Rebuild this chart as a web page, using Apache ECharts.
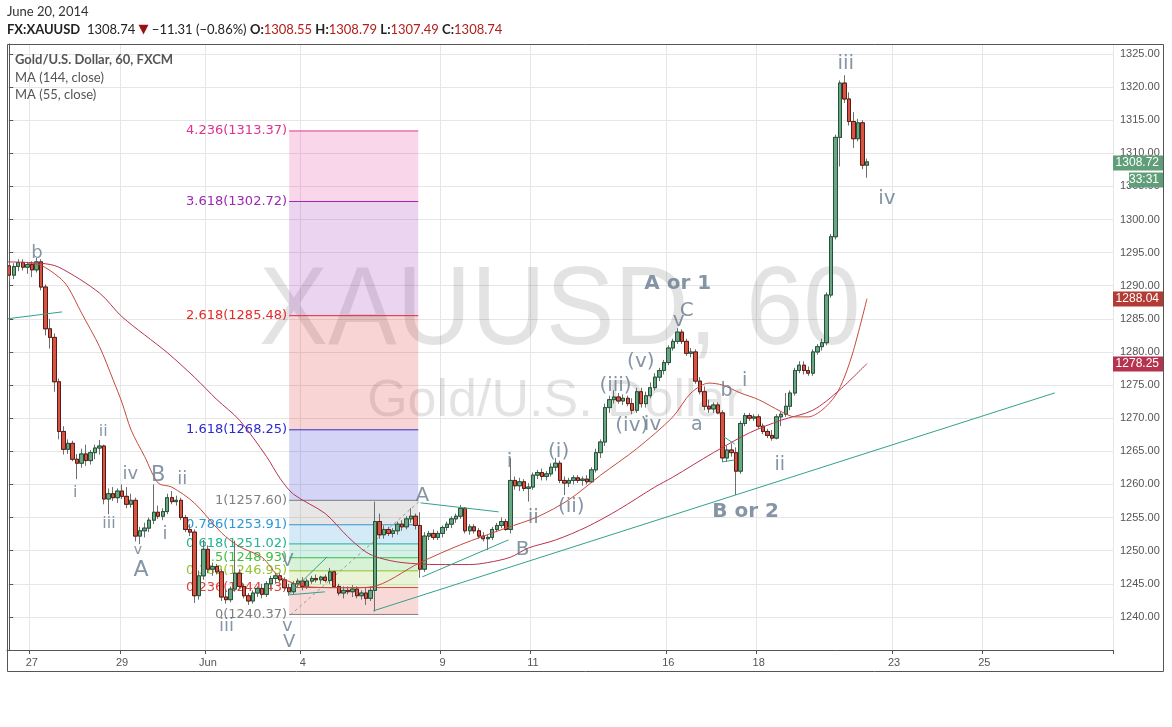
<!DOCTYPE html>
<html><head><meta charset="utf-8">
<script src="https://cdn.jsdelivr.net/npm/echarts@6/dist/echarts.min.js"></script>
<style>html,body{margin:0;padding:0;background:#fff}#c{width:1172px;height:727px}</style>
</head><body><div id="c"></div><script>
// ---------- DATA ----------
const slotCount = 245;
const dayLabels = ['27','29','Jun','4','9','11','16','18','23','25'];
const dayIndex  = [5,25,44,65,96,116,146,166,196,216];

const opens = [1293.0,1291.6,1292.9,1293.5,1292.8,1293.2,1292.4,1293.6,1289.8,1283.5,1282.2,1275.5,1268.0,1265.3,1266.2,1263.8,1263.2,1264.6,1263.6,1264.8,
1265.5,1265.8,1257.8,1258.6,1258.0,1259.0,1258.2,1257.0,1257.6,1252.2,1253.0,1253.4,1254.6,1255.8,1255.2,1255.9,1258.0,1257.4,1257.6,1255.0,
1253.2,1252.8,1243.2,1246.2,1250.2,1247.2,1247.6,1246.8,1243.0,1242.6,1244.2,1246.6,1244.6,1243.2,1242.4,1243.6,1244.3,1243.4,1245.0,1245.8,
1246.2,1245.6,1244.4,1243.8,1245.0,1245.4,1244.6,1245.4,1245.8,1245.6,1246.0,1245.5,1246.8,1244.6,1243.6,1244.0,1243.8,1244.2,1243.2,1243.6,
1242.8,1244.0,1254.4,1252.4,1253.2,1252.6,1253.0,1254.0,1253.6,1254.8,1255.2,1253.8,1247.2,1252.2,1252.6,1252.0,1252.6,1253.5,1254.0,1254.8,
1255.2,1256.4,1253.0,1253.6,1253.0,1252.2,1251.8,1252.0,1253.2,1253.8,1254.4,1253.2,1260.6,1259.8,1260.4,1259.4,1259.6,1261.4,1261.8,1261.2,
1261.6,1262.6,1263.2,1260.6,1260.2,1260.6,1261.0,1260.6,1260.8,1260.4,1262.2,1264.8,1266.4,1271.6,1272.8,1273.2,1272.6,1273.0,1272.2,1271.2,
1274.0,1272.2,1273.4,1274.6,1276.2,1277.2,1278.4,1280.6,1281.6,1283.0,1281.6,1279.8,1280.0,1275.6,1274.0,1271.8,1271.4,1272.0,1270.8,1264.0,
1265.2,1264.8,1262.0,1269.2,1270.4,1270.0,1270.2,1268.8,1268.0,1267.4,1267.0,1270.2,1270.6,1271.8,1273.8,1277.2,1278.0,1277.2,1276.8,1280.0,
1280.8,1281.4,1288.6,1297.4,1312.4,1320.6,1318.2,1314.8,1312.2,1314.6,1308.2];
const highs = [1293.6,1293.4,1294.0,1294.0,1293.6,1293.7,1294.2,1294.0,1290.2,1285.0,1282.8,1276.0,1268.8,1266.8,1266.6,1264.6,1265.4,1266.0,1265.2,1266.0,
1266.7,1266.0,1259.4,1259.6,1259.4,1260.0,1259.6,1258.6,1258.0,1253.6,1254.2,1255.0,1260.0,1256.8,1256.4,1258.6,1259.0,1258.3,1258.0,1255.4,
1254.0,1253.2,1247.0,1251.6,1250.8,1248.2,1248.0,1247.2,1244.2,1244.6,1251.5,1247.2,1245.0,1243.6,1244.0,1244.6,1245.0,1245.4,1246.2,1246.6,
1246.6,1246.0,1245.0,1245.4,1245.8,1246.0,1245.8,1246.2,1246.4,1246.2,1246.4,1247.4,1247.0,1245.0,1244.6,1244.6,1244.8,1244.6,1244.0,1244.4,
1244.6,1257.4,1255.6,1253.8,1253.6,1253.4,1254.4,1254.6,1255.2,1256.4,1255.6,1255.8,1252.8,1253.0,1253.2,1253.0,1253.8,1254.4,1255.2,1255.6,
1256.9,1256.6,1254.0,1254.0,1253.4,1252.8,1252.4,1253.6,1254.2,1255.0,1254.8,1264.0,1261.2,1261.0,1260.8,1260.2,1261.8,1262.2,1262.4,1262.0,
1263.2,1264.0,1263.6,1261.2,1261.0,1261.4,1261.4,1261.2,1261.4,1262.6,1265.4,1266.8,1272.2,1273.4,1274.2,1273.8,1273.6,1273.4,1273.0,1274.6,
1274.6,1274.0,1275.4,1276.8,1277.6,1278.8,1281.0,1282.0,1283.6,1283.4,1282.0,1280.6,1280.4,1276.2,1274.8,1272.8,1272.4,1272.4,1271.2,1265.8,
1266.2,1265.6,1269.6,1270.8,1270.8,1270.6,1270.6,1269.2,1268.4,1268.2,1270.6,1271.0,1273.8,1274.2,1277.6,1278.6,1278.6,1277.8,1280.4,1281.2,
1282.0,1289.0,1297.8,1312.8,1321.0,1321.8,1319.2,1316.2,1315.2,1315.0,1309.2];
const lows = [1290.8,1291.0,1292.2,1292.3,1291.8,1291.3,1292.0,1289.3,1282.5,1280.5,1274.0,1266.8,1264.5,1264.6,1263.5,1260.8,1262.5,1262.8,1263.0,1263.8,
1264.5,1257.0,1255.5,1257.5,1257.2,1257.8,1256.4,1256.5,1251.4,1251.0,1252.0,1252.8,1254.0,1254.8,1254.6,1255.5,1257.0,1256.8,1254.6,1252.8,
1252.2,1242.1,1242.6,1245.6,1246.6,1246.2,1246.4,1242.4,1242.0,1242.2,1243.8,1244.2,1242.8,1241.8,1242.0,1243.0,1242.8,1243.0,1244.2,1245.0,
1245.2,1244.0,1243.2,1243.4,1244.4,1244.0,1244.2,1245.0,1245.2,1245.0,1245.2,1245.0,1244.4,1243.2,1242.8,1243.4,1243.0,1242.8,1242.6,1241.8,
1242.4,1240.8,1251.8,1251.8,1252.2,1252.0,1252.4,1253.0,1253.2,1254.2,1253.2,1245.9,1246.8,1251.6,1251.6,1251.6,1252.0,1253.0,1253.4,1254.2,
1254.8,1252.6,1252.4,1252.6,1251.8,1251.4,1250.1,1251.6,1252.8,1253.4,1253.0,1252.6,1259.2,1259.0,1259.0,1257.4,1259.2,1260.8,1260.6,1260.6,
1261.2,1262.0,1260.2,1258.4,1259.6,1260.0,1260.2,1259.8,1260.0,1260.2,1261.8,1264.0,1265.8,1270.8,1272.2,1272.2,1272.0,1271.8,1270.6,1270.8,
1271.6,1271.6,1273.0,1274.2,1275.6,1276.6,1278.0,1280.2,1281.2,1281.2,1279.4,1279.2,1275.2,1273.6,1271.2,1270.8,1270.8,1270.6,1263.4,1263.4,
1264.2,1258.4,1261.6,1268.8,1269.6,1269.6,1268.4,1267.6,1267.0,1266.6,1266.8,1268.8,1270.2,1271.2,1273.4,1276.8,1276.6,1276.4,1276.4,1279.6,
1280.2,1281.0,1288.2,1297.0,1308.0,1317.6,1314.2,1310.8,1311.8,1307.6,1306.3];
const closes = [1291.6,1292.9,1293.5,1292.8,1293.2,1292.4,1293.6,1289.8,1283.5,1282.2,1275.5,1268.0,1265.3,1266.2,1263.8,1263.2,1264.6,1263.6,1264.8,1265.5,
1265.8,1257.8,1258.6,1258.0,1259.0,1258.2,1257.0,1257.6,1252.2,1253.0,1253.4,1254.6,1255.8,1255.2,1255.9,1258.0,1257.4,1257.6,1255.0,1253.2,
1252.8,1243.2,1246.2,1250.2,1247.2,1247.6,1246.8,1243.0,1242.6,1244.2,1246.6,1244.6,1243.2,1242.4,1243.6,1244.3,1243.4,1245.0,1245.8,1246.2,
1245.6,1244.4,1243.8,1245.0,1245.4,1244.6,1245.4,1245.8,1245.6,1246.0,1245.5,1246.8,1244.6,1243.6,1244.0,1243.8,1244.2,1243.2,1243.6,1242.8,
1244.0,1254.4,1252.4,1253.2,1252.6,1253.0,1254.0,1253.6,1254.8,1255.2,1253.8,1247.2,1252.2,1252.6,1252.0,1252.6,1253.5,1254.0,1254.8,1255.2,
1256.4,1253.0,1253.6,1253.0,1252.2,1251.8,1252.0,1253.2,1253.8,1254.4,1253.2,1260.6,1259.8,1260.4,1259.4,1259.6,1261.4,1261.8,1261.2,1261.6,
1262.6,1263.2,1260.6,1260.2,1260.6,1261.0,1260.6,1260.8,1260.4,1262.2,1264.8,1266.4,1271.6,1272.8,1273.2,1272.6,1273.0,1272.2,1271.2,1274.0,
1272.2,1273.4,1274.6,1276.2,1277.2,1278.4,1280.6,1281.6,1283.0,1281.6,1279.8,1280.0,1275.6,1274.0,1271.8,1271.4,1272.0,1270.8,1264.0,1265.2,
1264.8,1262.0,1269.2,1270.4,1270.0,1270.2,1268.8,1268.0,1267.4,1267.0,1270.2,1270.6,1271.8,1273.8,1277.2,1278.0,1277.2,1276.8,1280.0,1280.8,
1281.4,1288.6,1297.4,1312.4,1320.6,1318.2,1314.8,1312.2,1314.6,1308.2,1308.7];

// moving averages as [bar index, value]
const ma144 = [[-0.5,1293.6],[7,1293.4],[11,1292.8],[20,1288.9],[25,1285.3],[35,1279.9],[41,1276.2],[46,1272.8],[51,1269.7],[57,1264.2],[60,1260.9],[63,1258.5],[70,1255.6],[75,1252.1],[79,1249.8],[82,1248.9],[87,1248.2],[95,1247.9],[102,1247.9],[106,1248.2],[111,1249.0],[115,1250.4],[121,1251.6],[128,1253.6],[135,1256.2],[143,1259.6],[147,1261.1],[156,1264.8],[164,1267.8],[171,1269.7],[178,1271.2],[184,1274.3],[190,1278.25]];
const ma55 = [[4,1293.4],[7,1293.1],[11,1291.3],[13,1289.8],[16,1285.9],[20,1280.8],[23,1275.8],[25,1272.3],[27,1268.2],[30,1264.2],[33,1260.2],[36,1259.6],[41,1257.2],[47,1252.7],[51,1250.6],[56,1249.0],[60,1246.0],[67,1244.5],[75,1244.4],[80,1244.5],[91,1248.2],[100,1250.9],[110,1253.4],[117,1255.1],[124,1257.7],[131,1261.4],[139,1265.4],[147,1270.2],[151,1273.8],[155,1275.3],[158,1275.0],[162,1273.8],[166,1272.8],[171,1271.0],[174,1270.2],[177,1270.2],[180,1271.2],[183,1273.4],[185,1276.2],[187,1280.2],[190,1288.04]];

// Fibonacci extension
const fibRatios = ['0','0.236','0.382','0.5','0.618','0.786','1','1.618','2.618','3.618','4.236'];
const fibPrices = [1240.37,1244.43,1246.95,1248.93,1251.02,1253.91,1257.60,1268.25,1285.48,1302.72,1313.37];
const fibColors = ['#808080','#e0403a','#93c42c','#3cbf3c','#22b38f','#2b98d6','#808080','#2a2ad0','#e32a2a','#9c27b0','#e0318f'];
const fibSpan = [62.0, 90.6];

// trend lines [[idx, price],[idx, price]]
const trendLines = [
  [[80.65,1240.91],[231.6,1273.82]],
  [[-0.5,1285.0],[11.7,1286.05]],
  [[61.8,1243.33],[70.4,1249.06]],
  [[62.0,1243.33],[69.9,1243.78]],
  [[91.1,1257.22],[108.4,1255.86]],
  [[91.5,1246.04],[110.6,1251.63]],
  [[158.3,1267.18],[160.7,1266.1]],
  [[157.9,1263.4],[160.7,1263.7]]
];
const dashedLine = [[62.3,1240.3],[91.1,1257.6]];

// Elliott wave labels
const waveText  = ['b','ii','i','iii','iv','B','ii','i','v','A','iii','v','V','V','A','B','i','ii','(i)','(ii)','(iii)','(iv)','iv','(v)','v','C','A or 1','b','a','i','ii','B or 2','iii','iv'];
const waveIdx   = [6.15,20.8,14.6,22.1,26.8,33.0,38.3,34.5,28.5,29.2,48.1,61.6,62.0,61.6,91.5,113.7,110.8,116.1,121.7,124.5,134.3,137.9,142.5,139.9,148.3,150.1,148.1,158.9,152.3,162.9,170.7,163.1,185.3,194.4];
const wavePrice = [1294.96,1267.93,1258.73,1254.05,1261.6,1261.29,1260.84,1252.54,1249.97,1247.1,1238.5,1238.5,1236.1,1248.46,1258.27,1250.12,1263.4,1254.95,1264.9,1256.61,1274.88,1268.84,1269.0,1278.5,1284.69,1286.2,1290.28,1274.12,1268.99,1275.63,1262.95,1255.86,1323.49,1303.11];
const waveSize  = [18,16,16,16,18,21,18,18,14,22,18,18,18,18,20,20,20,20,20,20,20,20,20,20,20,20,20,19,19,19,19,20,20,20];
const waveBold  = [0,0,0,0,0,0,0,0,0,0,0,0,0,0,0,0,0,0,0,0,0,0,0,0,0,0,1,0,0,0,0,1,0,0];

// price tags on the right axis
const lastPrice = 1308.72;
const ma55Last = 1288.04;
const ma144Last = 1278.25;

// ---------- CHART ----------
const chart = echarts.init(document.getElementById('c'));
const cats = [];
for (let i = 0; i < slotCount; i++) cats.push(String(i));
const labelOf = {};
dayIndex.forEach((d, k) => { labelOf[String(d)] = dayLabels[k]; });
const isDay = (idx) => dayIndex.indexOf(idx) >= 0;

const wickData = opens.map((o, i) => [o, closes[i], lows[i], highs[i]]);
const bodyData = opens.map((o, i) => [o, closes[i], Math.min(o, closes[i]), Math.max(o, closes[i])]);
const fibData = fibPrices.map((p, k) => [fibSpan[0], fibSpan[1], p, k > 0 ? fibPrices[k - 1] : p, k]);

const waveColor = '#667b8e';
const waveData = waveText.map((t, k) => ({
  value: [waveIdx[k], wavePrice[k]],
  label: { formatter: t, fontSize: waveSize[k], fontWeight: waveBold[k] ? 'bold' : 'normal' }
}));

const axisFont = '"Liberation Sans", Arial, sans-serif';

const option = {
  animation: false,
  grid: { left: 7, right: 59, top: 44, bottom: 77, show: false },
  xAxis: [
    { type: 'category', data: cats, boundaryGap: true,
      axisLine: { lineStyle: { color: '#555' } },
      axisTick: { show: true, length: 4, interval: (idx) => isDay(idx), lineStyle: { color: '#555' } },
      axisLabel: { interval: 0, formatter: (v) => labelOf[v] || '', color: '#555', fontSize: 11, fontFamily: axisFont, margin: 7 },
      splitLine: { show: true, interval: (idx) => isDay(idx), lineStyle: { color: '#e6e6e6' } } },
    { type: 'value', min: -0.5, max: slotCount - 0.5, show: false }
  ],
  yAxis: [{ type: 'value', position: 'right', min: 1235, max: 1326.5, interval: 5, scale: true,
    axisLine: { show: true, lineStyle: { color: '#555' } },
    axisTick: { show: true, length: 4, lineStyle: { color: '#555' } },
    axisLabel: { color: '#555', fontSize: 11, fontFamily: axisFont, margin: 7, formatter: (v) => v.toFixed(2), showMinLabel: false, showMaxLabel: false },
    splitLine: { show: true, lineStyle: { color: '#e6e6e6' } } }],
  series: [
    { type: 'custom', xAxisIndex: 1, yAxisIndex: 0, z: 1, silent: true, data: fibData,
      encode: { x: [0, 1], y: [2, 3] },
      renderItem: function (params, api) {
        const k = api.value(4);
        const a = api.coord([api.value(0), api.value(2)]);
        const b = api.coord([api.value(1), api.value(2)]);
        const yPrev = api.coord([api.value(0), api.value(3)])[1];
        const col = fibColors[k];
        const ch = [];
        if (k > 0) ch.push({ type: 'rect', shape: { x: a[0], y: a[1], width: b[0] - a[0], height: yPrev - a[1] }, style: { fill: col, opacity: 0.2 } });
        ch.push({ type: 'line', shape: { x1: a[0], y1: a[1], x2: b[0], y2: a[1] }, style: { stroke: col, lineWidth: 1 } });
        ch.push({ type: 'text', style: { x: a[0] - 2, y: a[1], text: fibRatios[k] + '(' + fibPrices[k].toFixed(2) + ')', fill: col, font: '13px "DejaVu Sans"', textAlign: 'right', textVerticalAlign: 'middle' } });
        return { type: 'group', children: ch };
      } },
    { type: 'lines', coordinateSystem: 'cartesian2d', xAxisIndex: 1, yAxisIndex: 0, z: 3, silent: true,
      data: [{ coords: dashedLine }], lineStyle: { color: '#9a9a9a', width: 1, type: [3, 3], opacity: 1 } },
    { type: 'candlestick', xAxisIndex: 0, yAxisIndex: 0, z: 4, silent: true, barWidth: 3.9, data: wickData,
      itemStyle: { color: 'transparent', color0: 'transparent', borderColor: '#6e6e70', borderColor0: '#6e6e70', borderWidth: 1 } },
    { type: 'candlestick', xAxisIndex: 0, yAxisIndex: 0, z: 5, silent: true, barWidth: 3.9, data: bodyData,
      itemStyle: { color: '#6ba583', color0: '#d75442', borderColor: '#225437', borderColor0: '#5b1a13', borderWidth: 1 } },
    { type: 'line', xAxisIndex: 1, yAxisIndex: 0, z: 6, silent: true, data: ma144, smooth: 0.3, symbol: 'none',
      lineStyle: { color: '#b8334f', width: 1 } },
    { type: 'line', xAxisIndex: 1, yAxisIndex: 0, z: 6, silent: true, data: ma55, smooth: 0.3, symbol: 'none',
      lineStyle: { color: '#c5493b', width: 1 } },
    { type: 'lines', coordinateSystem: 'cartesian2d', xAxisIndex: 1, yAxisIndex: 0, z: 7, silent: true,
      data: trendLines.map(c => ({ coords: c })), lineStyle: { color: '#33a08c', width: 1, opacity: 1 } },
    { type: 'scatter', xAxisIndex: 1, yAxisIndex: 0, z: 8, silent: true, symbolSize: 1, itemStyle: { color: 'transparent' },
      label: { show: true, position: 'inside', color: waveColor, fontFamily: '"DejaVu Sans"' }, data: waveData }
  ]
};
chart.setOption(option);

// ---------- overlay texts ----------
const yOf = (p) => chart.convertToPixel({ yAxisIndex: 0 }, p);
const gx = 1113;
function tag(id, price, text, color, dy, x0) {
  const y = Math.round(yOf(price)) + (dy || 0);
  return [
    { type: 'rect', id: id + 'r', z: 20, shape: { x: x0 || gx, y: y - 7.5, width: 1163 - (x0 || gx), height: 15 }, style: { fill: color } },
    { type: 'text', id: id + 't', z: 21, style: { x: 1159, y: y, text: text, fill: '#fff', font: '12px "Liberation Sans", Arial', textAlign: 'right', textVerticalAlign: 'middle' } }
  ];
}
const elems = [
  { type: 'text', id: 'wm1', z: 0, style: { x: 560, y: 313, text: 'XAUUSD, 60', fill: 'rgba(0,0,0,0.11)', font: '112px "Liberation Sans", Arial', textAlign: 'center', textVerticalAlign: 'middle' }, scaleX: 0.92, originX: 560, originY: 313 },
  { type: 'text', id: 'wm2', z: 0, style: { x: 555, y: 402, text: 'Gold/U.S. Dollar', fill: 'rgba(0,0,0,0.11)', font: '52px "Liberation Sans", Arial', textAlign: 'center', textVerticalAlign: 'middle' } },
  { type: 'rect', id: 'frame', z: 15, shape: { x: 7.5, y: 44.5, width: 1156, height: 627 }, style: { fill: 'none', stroke: '#555', lineWidth: 1 } },
  { type: 'text', id: 'date', z: 15, style: { x: 7, y: 12, text: 'June 20, 2014', fill: '#333', font: '13px Lato', textVerticalAlign: 'middle' } },
  { type: 'text', id: 'hdr', z: 15, style: { x: 7, y: 30, textVerticalAlign: 'middle', font: '13px Lato', fill: '#222',
      text: '{b|FX:XAUUSD}  1308.74 {t|▼} −11.31 (−0.86%) {b|O:}{r|1308.55} {b|H:}{r|1308.79} {b|L:}{r|1307.49} {b|C:}{r|1308.74}',
      rich: { b: { fontWeight: 'bold', fontFamily: 'Lato', fontSize: 13, fill: '#222' }, r: { fill: '#b3201c', fontFamily: 'Lato', fontSize: 13 }, t: { fill: '#9c0f0f', fontSize: 13, fontFamily: '"DejaVu Sans"' } } } },
  { type: 'text', id: 'l1', z: 15, style: { x: 15, y: 60, text: 'Gold/U.S. Dollar, 60, FXCM', fill: '#555', font: 'bold 13px Lato', textVerticalAlign: 'middle' } },
  { type: 'text', id: 'l2', z: 15, style: { x: 15, y: 78, text: 'MA (144, close)', fill: '#555', font: '13px Lato', textVerticalAlign: 'middle' } },
  { type: 'text', id: 'l3', z: 15, style: { x: 15, y: 95, text: 'MA (55, close)', fill: '#555', font: '13px Lato', textVerticalAlign: 'middle' } }
].concat(tag('p', lastPrice, lastPrice.toFixed(2), '#5f9e79', 1))
 .concat(tag('cd', lastPrice, '33:31', '#5f9e79', 18, 1129))
 .concat(tag('m55', ma55Last, ma55Last.toFixed(2), '#b23b33'))
 .concat(tag('m144', ma144Last, ma144Last.toFixed(2), '#b5334f'));
chart.setOption({ graphic: { elements: elems } });
</script></body></html>
